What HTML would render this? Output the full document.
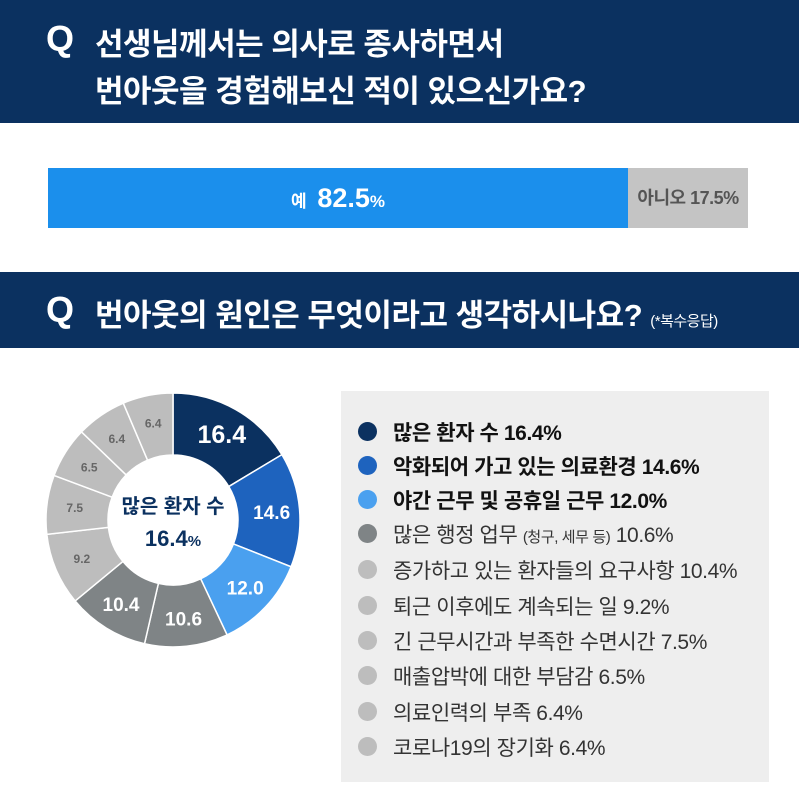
<!DOCTYPE html>
<html><head><meta charset="utf-8"><style>
body{margin:0;width:799px;height:791px;background:#fff;position:relative;overflow:hidden;font-family:"Liberation Sans","Noto Sans CJK KR",sans-serif}
.band{position:absolute;left:0;width:799px;background:#0b3160;color:#fff}
.q{position:absolute;font-weight:bold;font-size:36px;color:#fff}
.t{position:absolute;font-weight:bold;font-size:31px;color:#fff;letter-spacing:-0.5px;white-space:nowrap}
.leg{position:absolute;left:341px;top:391px;width:428px;height:391px;background:#eeeeee}
.row{position:absolute;left:22px;height:30px;font-size:21px;color:#333;white-space:nowrap;letter-spacing:-0.4px}
.row i{position:absolute;left:-5px;top:5px;width:19px;height:19px;border-radius:50%}
.row span{position:absolute;left:30px;top:0px}
.b{font-weight:bold;color:#111}
</style></head><body>
<div class="band" style="top:0;height:123px">
<div class="q" style="left:46px;top:18px">Q</div>
<div class="t" style="left:95px;top:19px">선생님께서는 의사로 종사하면서</div>
<div class="t" style="left:95px;top:66px">번아웃을 경험해보신 적이 있으신가요?</div>
</div>
<div style="position:absolute;left:48px;top:168px;width:580px;height:60px;background:#1b8fec;color:#fff;text-align:center;line-height:60px;font-size:17px;font-weight:bold">예 <span style="font-size:27px;margin-left:6px">82.5</span>%</div>
<div style="position:absolute;left:628px;top:168px;width:120px;height:60px;background:#c4c4c4;color:#555;text-align:center;line-height:60px;font-size:18px;font-weight:bold;letter-spacing:-0.5px">아니오 17.5%</div>
<div class="band" style="top:272px;height:76px">
<div class="q" style="left:46px;top:17px">Q</div>
<div class="t" style="left:95px;top:18px">번아웃의 원인은 무엇이라고 생각하시나요? <span style="font-size:15px;font-weight:normal">(*복수응답)</span></div>
</div>
<svg id="d" style="position:absolute;left:0;top:0" width="799" height="791"></svg>
<div style="position:absolute;left:108px;top:492px;width:130px;text-align:center;color:#0b3160;font-weight:bold;font-size:20px;line-height:31px">많은 환자 수<br><span style="font-size:22px">16.4</span><span style="font-size:15px">%</span></div>
<div class="leg">
<div class="row" style="top:26px"><i style="background:#0b3160"></i><span class="b">많은 환자 수 16.4%</span></div>
<div class="row" style="top:60px"><i style="background:#1e63be"></i><span class="b">악화되어 가고 있는 의료환경 14.6%</span></div>
<div class="row" style="top:94px"><i style="background:#4aa0ef"></i><span class="b">야간 근무 및 공휴일 근무 12.0%</span></div>
<div class="row" style="top:128px"><i style="background:#7f8486"></i><span>많은 행정 업무 <small style="font-size:15px">(청구, 세무 등)</small> 10.6%</span></div>
<div class="row" style="top:164px"><i style="background:#bdbdbd"></i><span>증가하고 있는 환자들의 요구사항 10.4%</span></div>
<div class="row" style="top:200px"><i style="background:#bdbdbd"></i><span>퇴근 이후에도 계속되는 일 9.2%</span></div>
<div class="row" style="top:235px"><i style="background:#bdbdbd"></i><span>긴 근무시간과 부족한 수면시간 7.5%</span></div>
<div class="row" style="top:270px"><i style="background:#bdbdbd"></i><span>매출압박에 대한 부담감 6.5%</span></div>
<div class="row" style="top:306px"><i style="background:#bdbdbd"></i><span>의료인력의 부족 6.4%</span></div>
<div class="row" style="top:341px"><i style="background:#bdbdbd"></i><span>코로나19의 장기화 6.4%</span></div>
</div>
<script>
var v=[16.4,14.6,12.0,10.6,10.4,9.2,7.5,6.5,6.4,6.4];
var c=['#0b3160','#1e63be','#4aa0ef','#7f8486','#7f8486','#bdbdbd','#bdbdbd','#bdbdbd','#bdbdbd','#bdbdbd'];
var fs=[25,19,19,19,19,12,12,12,12,12];
var tc=['#fff','#fff','#fff','#fff','#fff','#666','#666','#666','#666','#666'];
var cx=173,cy=520,R=127,r=65,a=0,s='';
function p(ang,rad){var t=ang/100*2*Math.PI;return [cx+rad*Math.sin(t),cy-rad*Math.cos(t)];}
for(var i=0;i<v.length;i++){var b=a+v[i];var A=p(a,R),B=p(b,R),C=p(b,r),D=p(a,r);
s+='<path d="M'+A+' A'+R+','+R+' 0 0 1 '+B+' L'+C+' A'+r+','+r+' 0 0 0 '+D+'Z" fill="'+c[i]+'" stroke="#fff" stroke-width="1.5"/>';
var m=p((a+b)/2,(R+r)/2+3);
s+='<text x="'+m[0]+'" y="'+(m[1]+fs[i]*0.36)+'" text-anchor="middle" font-weight="bold" font-size="'+fs[i]+'" fill="'+tc[i]+'" font-family="Liberation Sans,sans-serif">'+v[i].toFixed(1)+'</text>';
a=b;}
document.getElementById('d').innerHTML=s;
</script>
</body></html>
